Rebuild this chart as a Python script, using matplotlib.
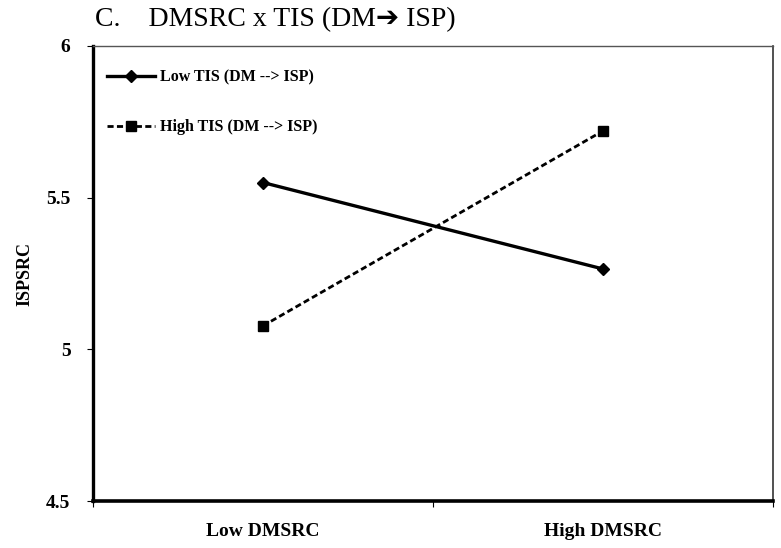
import matplotlib
matplotlib.use("Agg")
import matplotlib.pyplot as plt

categories = ["Low DMSRC", "High DMSRC"]
low_tis = [5.55, 5.265]
high_tis = [5.077, 5.72]
series_labels = ["Low TIS (DM --> ISP)", "High TIS (DM --> ISP)"]
y_ticks = [4.5, 5, 5.5, 6]
y_tick_labels = ["4.5", "5", "5.5", "6"]
title = "C.    DMSRC x TIS (DM\u2794 ISP)"
y_label = "ISPSRC"

serif = ["Liberation Serif", "DejaVu Sans"]
plt.rcParams["font.family"] = serif

fig = plt.figure(figsize=(7.81, 5.48), dpi=100)
ax = fig.add_axes([92.7 / 781, 1 - 501 / 548, (773 - 92.7) / 781, (501 - 46) / 548])

x = [0, 1]
ax.plot(x, low_tis, color="black", lw=2.4, marker="D", ms=6.5, label=series_labels[0])
ax.plot(x, high_tis, color="black", lw=2.0, ls=(0, (2.2, 1.2)), marker="s", ms=7.5,
        label=series_labels[1])

ax.set_xlim(-0.5, 1.5)
ax.set_ylim(4.5, 6)
ax.set_xticks([-0.5, 0.5, 1.5])
ax.set_xticklabels([])
ax.set_xticks(x, minor=True)
ax.set_xticklabels(categories, minor=True, fontsize=14, fontweight="bold")
ax.tick_params(axis="x", which="minor", length=0, pad=16)
ax.tick_params(axis="x", which="major", length=4, width=0.8, direction="out")
ax.set_yticks(y_ticks)
ax.set_yticklabels(y_tick_labels, fontsize=14, fontweight="bold")
ax.tick_params(axis="y", length=4, width=0.8, pad=12)

ax.spines["left"].set_linewidth(2.4)
ax.spines["bottom"].set_linewidth(2.6)
ax.spines["top"].set_linewidth(1.0)
ax.spines["top"].set_color("#555555")
ax.spines["right"].set_linewidth(1.2)
ax.spines["right"].set_color("#333333")

ax.set_ylabel(y_label, fontsize=13, fontweight="bold", labelpad=9)

leg = ax.legend(loc="upper left", bbox_to_anchor=(0.012, 0.962), frameon=False,
                handlelength=3.0, handletextpad=0.3, labelspacing=2.1,
                borderaxespad=0.0,
                prop={"weight": "bold", "size": 11.5, "family": serif})

fig.text(95 / 781, 1 - 26 / 548, title, fontsize=20, ha="left", va="baseline",
         family=serif)

fig.savefig("out.png", dpi=100)
